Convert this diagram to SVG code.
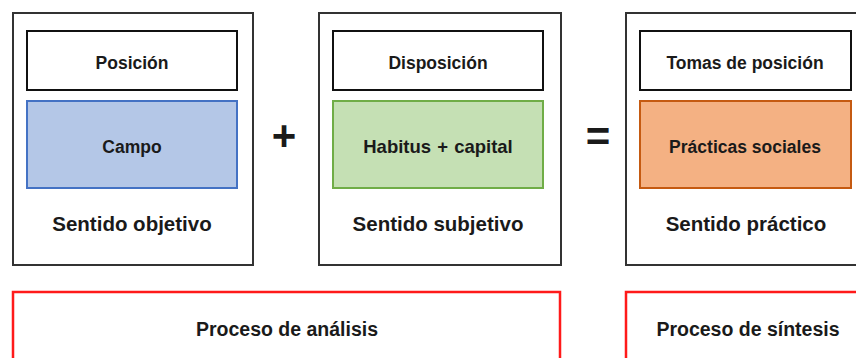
<svg xmlns="http://www.w3.org/2000/svg" width="856" height="358" viewBox="0 0 856 358">
<style>
.outer{fill:#ffffff;stroke:#333333;stroke-width:2}
.label{fill:#ffffff;stroke:#111111;stroke-width:2}
.t{font-family:"Liberation Sans",Arial,sans-serif;font-weight:bold;fill:#1a1a1a;text-anchor:middle}
.s16{font-size:17.5px}
.s19{font-size:20.5px}
.s20{font-size:19.5px}
.red{fill:#ffffff;stroke:#ff1a1a;stroke-width:2.5}
</style>
<rect width="856" height="358" fill="#ffffff"/>
<g id="box-objetivo">
<rect class="outer" x="13" y="13" width="240" height="252"/>
<rect class="label" x="27" y="31" width="210" height="59"/>
<text class="t s16" x="132" y="68.5">Posición</text>
<rect x="27" y="101" width="210" height="87" fill="#b4c7e7" stroke="#4472c4" stroke-width="2"/>
<text class="t s16" x="132" y="153">Campo</text>
<text class="t s19" x="132" y="231">Sentido objetivo</text>
</g>
<g id="op-plus">
<text class="t" x="284" y="150" font-size="42">+</text>
</g>
<g id="box-subjetivo">
<rect class="outer" x="319" y="13" width="242" height="252"/>
<rect class="label" x="333" y="31" width="210" height="59"/>
<text class="t s16" x="438" y="68.5">Disposición</text>
<rect x="333" y="101" width="210" height="87" fill="#c5e0b4" stroke="#70ad47" stroke-width="2"/>
<text class="t" x="438" y="153" font-size="18.5" word-spacing="1">Habitus + capital</text>
<text class="t s19" x="438" y="231">Sentido subjetivo</text>
</g>
<g id="op-equals">
<text class="t" x="598" y="151" font-size="42">=</text>
</g>
<g id="box-practico">
<rect class="outer" x="626" y="13" width="240" height="252"/>
<rect class="label" x="640" y="31" width="211" height="59"/>
<text class="t s16" x="745" y="68.5">Tomas de posición</text>
<rect x="640" y="101" width="211" height="87" fill="#f4b183" stroke="#c55a11" stroke-width="2"/>
<text class="t s16" x="745" y="153">Prácticas sociales</text>
<text class="t s19" x="746" y="231">Sentido práctico</text>
</g>
<g id="analisis">
<rect class="red" x="13" y="292" width="547" height="80"/>
<text class="t s20" x="287" y="336">Proceso de análisis</text>
</g>
<g id="sintesis">
<rect class="red" x="626" y="292" width="250" height="80"/>
<text class="t s20" x="748" y="336">Proceso de síntesis</text>
</g>
<g id="connectors"></g>
</svg>
